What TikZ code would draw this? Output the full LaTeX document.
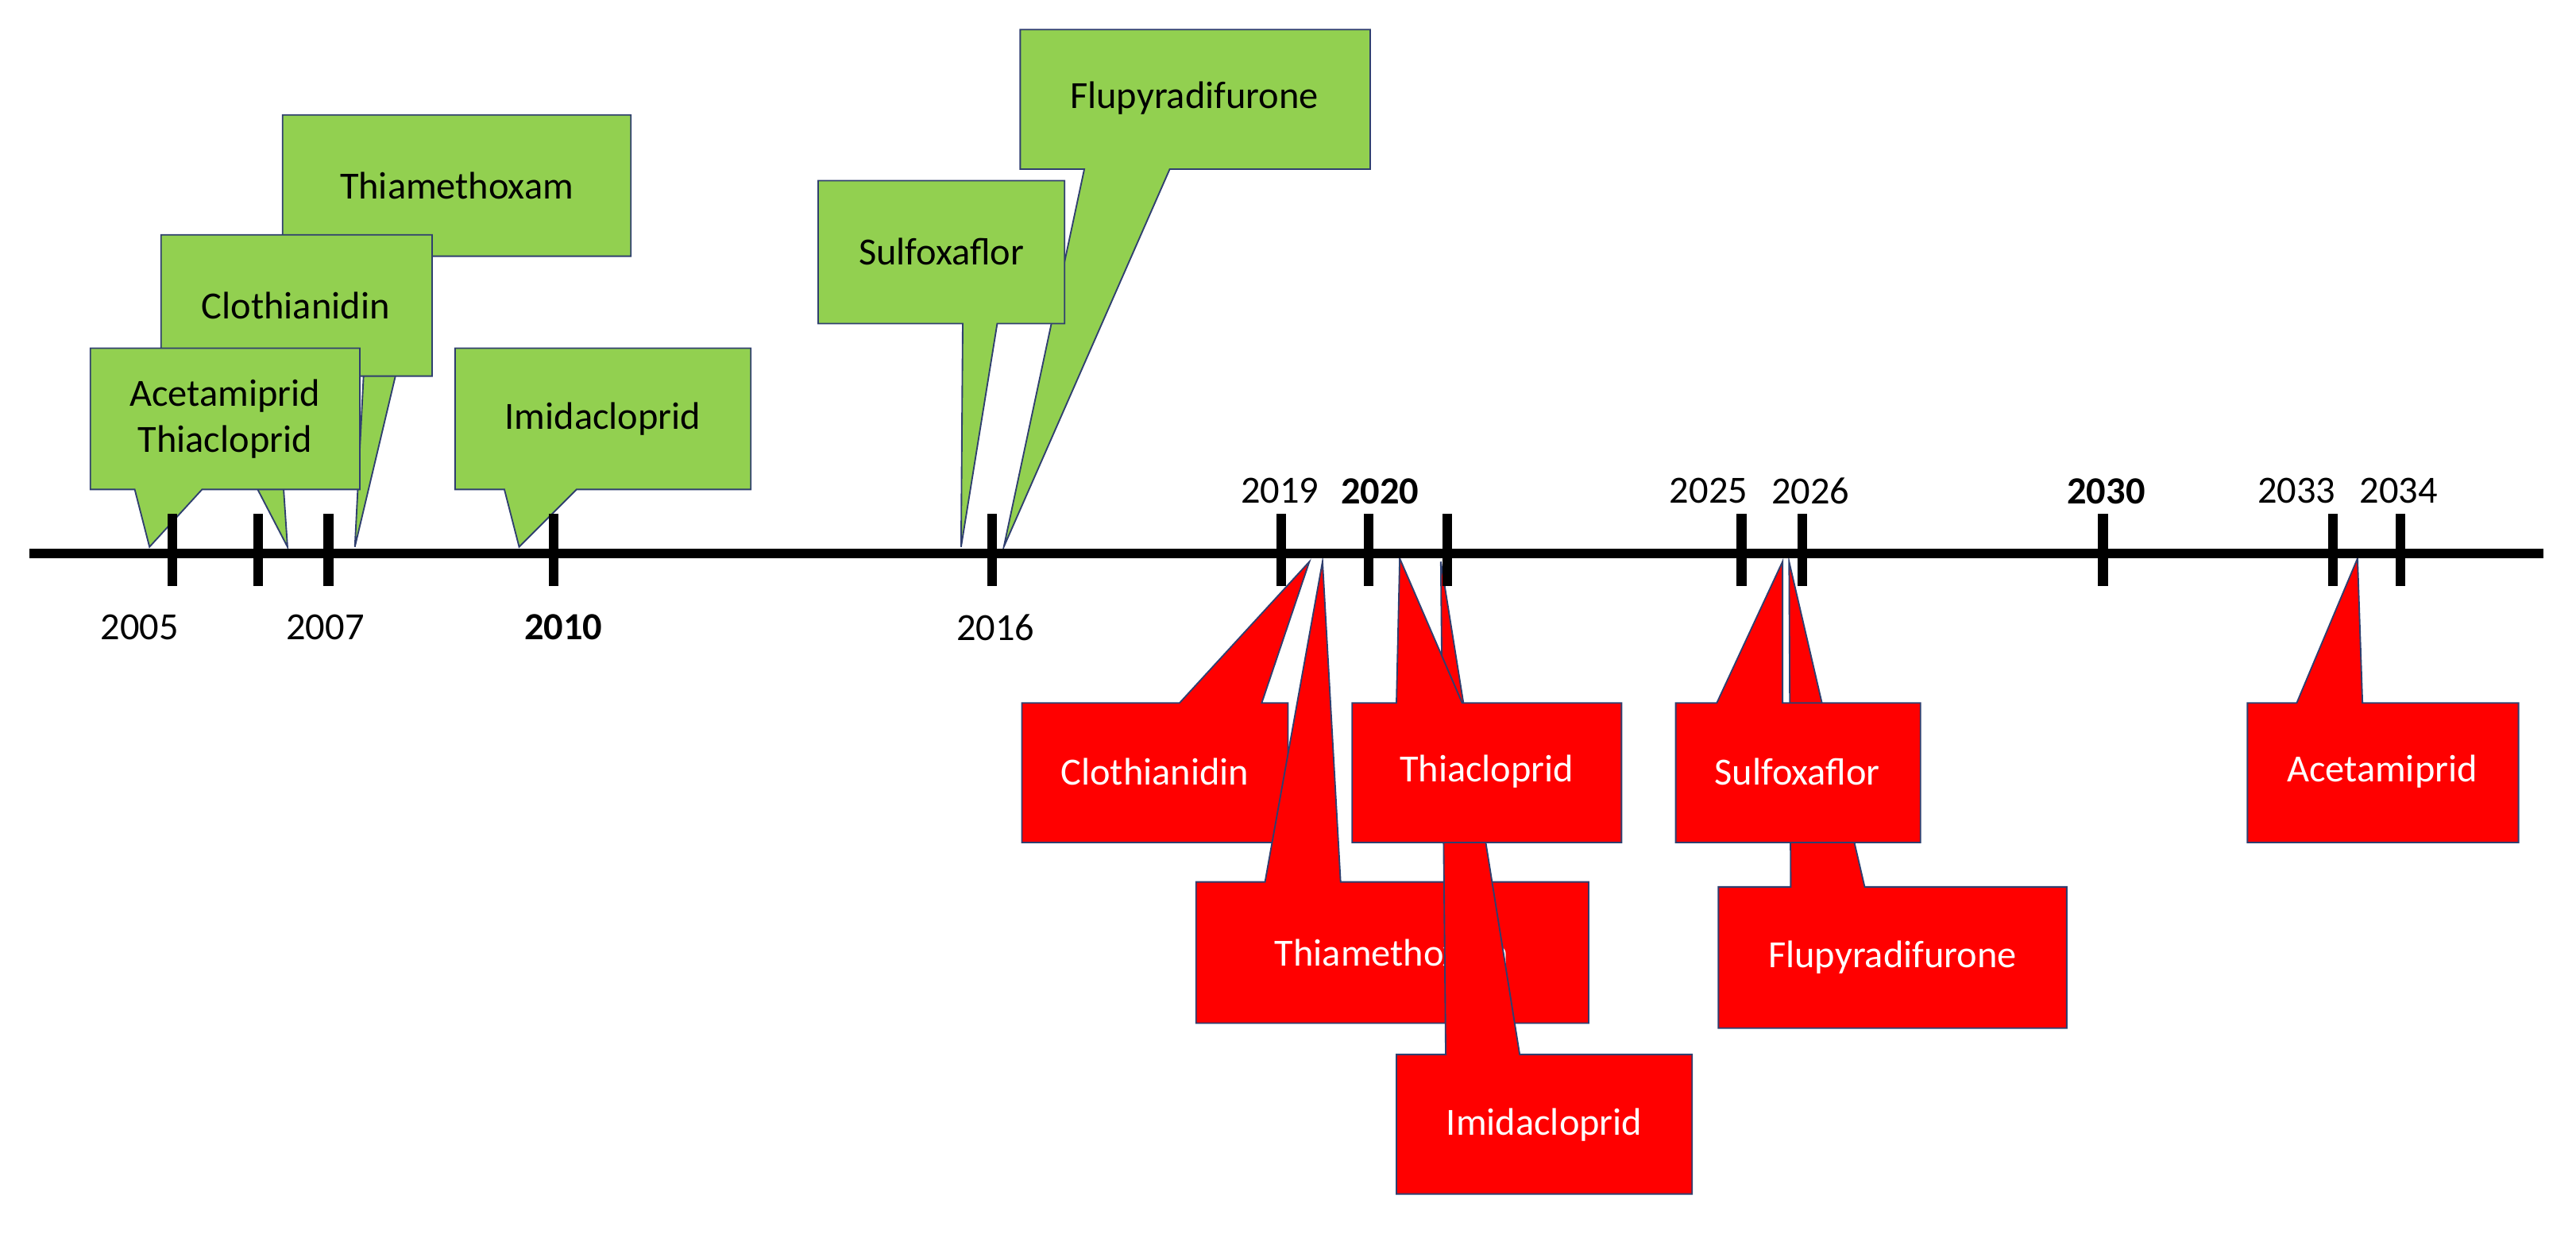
\documentclass[tikz,border=0pt]{standalone}
\usepackage{fontspec}
\setmainfont{Carlito}
\definecolor{gfill}{HTML}{92D050}
\definecolor{rfill}{HTML}{FF0000}
\definecolor{bord}{HTML}{2F3F6F}
\begin{document}
\begin{tikzpicture}[x=1pt,y=-1pt,
  g/.style={fill=gfill,draw=bord,line width=0.9pt,line join=miter},
  r/.style={fill=rfill,draw=bord,line width=0.9pt,line join=miter},
  lab/.style={font=\fontsize{23.4}{28}\selectfont,align=center,inner sep=0pt},
  wl/.style={lab,text=white},
  yr/.style={font=\fontsize{23.4}{28}\selectfont,inner sep=0pt},
  tick/.style={line width=6pt}]
\useasboundingbox (0,0) rectangle (1568,751);
% green callouts
\draw[g] (172,70)--(384,70)--(384,156)--(258,156)--(216,333)--(225,156)--(172,156)--cycle;
\node[lab] (gthm) at (278,113) {Thiamethoxam};
\draw[g] (98,143)--(263,143)--(263,229)--(168,229)--(175,333)--(121,229)--(98,229)--cycle;
\node[lab] (gclo) at (180,186) {Clothianidin};
\draw[g] (55,212)--(219,212)--(219,298)--(123,298)--(91,333)--(82,298)--(55,298)--cycle;
\node[lab] (gace) at (137,255) {Acetamiprid\\Thiacloprid};
\draw[g] (277,212)--(457,212)--(457,298)--(351,298)--(316,333)--(307,298)--(277,298)--cycle;
\node[lab] (gimi) at (367,255) {Imidacloprid};
\draw[g] (621,18)--(834,18)--(834,103)--(712,103)--(611,333)--(660,103)--(621,103)--cycle;
\node[lab] (gflu) at (727,60) {Flupyradifurone};
\draw[g] (498,110)--(648,110)--(648,197)--(607,197)--(585,333)--(586,197)--(498,197)--cycle;
\node[lab] (gsul) at (573,153) {Sulfoxaflor};
% red callouts
\draw[r] (622,513)--(622,428)--(718,428)--(797,342)--(768,428)--(784,428)--(784,513)--cycle;
\node[wl] (rclo) at (703,470) {Clothianidin};
\draw[r] (728,623)--(728,537)--(770,537)--(805,342)--(816,537)--(967,537)--(967,623)--cycle;
\node[wl] (rthm) at (847,580) {Thiamethoxam};
\draw[r] (850,727)--(850,642)--(880,642)--(877,342)--(925,642)--(1030,642)--(1030,727)--cycle;
\node[wl] (rimi) at (940,685) {Imidacloprid};
\draw[r] (823,513)--(823,428)--(850,428)--(852,340)--(890,428)--(987,428)--(987,513)--cycle;
\node[wl] (rthi) at (905,470) {Thiacloprid};
\draw[r] (1046,626)--(1046,540)--(1090,540)--(1089,342)--(1135,540)--(1258,540)--(1258,626)--cycle;
\node[wl] (rflu) at (1152,583) {Flupyradifurone};
\draw[r] (1020,513)--(1020,428)--(1045,428)--(1085,342)--(1085,428)--(1169,428)--(1169,513)--cycle;
\node[wl] (rsul) at (1094,470) {Sulfoxaflor};
\draw[r] (1368,513)--(1368,428)--(1398,428)--(1435,340)--(1438,428)--(1533,428)--(1533,513)--cycle;
\node[wl] (race) at (1450,470) {Acetamiprid};
% axis
\coordinate (a0) at (18,337); \coordinate (a1) at (1548,337);
\draw[line width=6pt] (a0)--(a1);
\foreach \x in {105,157,200,337,604,780,833,881,1060,1097,1280,1420,1461}
  \draw[tick] (\x,313)--(\x,357);
\node[yr] (y05) at (85,382) {2005};
\node[yr] (y07) at (198,382) {2007};
\node[yr] (y10) at (343,382) {\bfseries 2010};
\node[yr] (y16) at (606,382) {2016};
\node[yr] (y19) at (779,299) {2019};
\node[yr] (y20) at (840,299) {\bfseries 2020};
\node[yr] (y25) at (1040,299) {2025};
\node[yr] (y26) at (1102,299) {2026};
\node[yr] (y30) at (1282,299) {\bfseries 2030};
\node[yr] (y33) at (1398,299) {2033};
\node[yr] (y34) at (1460,299) {2034};
\end{tikzpicture}
\end{document}
